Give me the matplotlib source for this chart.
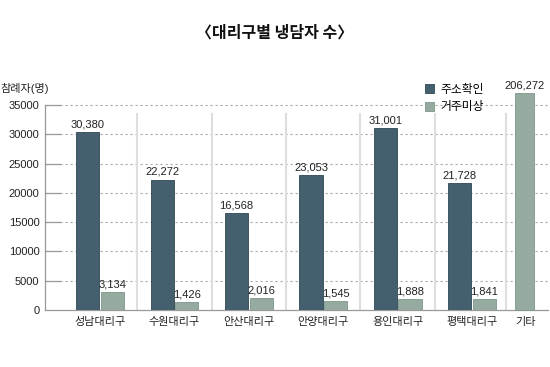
import numpy as np
import matplotlib.pyplot as plt
from matplotlib.patches import Patch

plt.rcParams['font.family'] = ['Liberation Sans', 'Noto Sans CJK KR']

# Data
districts = ['성남대리구', '수원대리구', '안산대리구', '안양대리구', '용인대리구', '평택대리구']
confirmed = [30380, 22272, 16568, 23053, 31001, 21728]   # 주소확인
unknown = [3134, 1426, 2016, 1545, 1888, 1841]           # 거주미상
other_label = '기타'
other_value = 206272
series_names = ['주소확인', '거주미상']
yticks = [0, 5000, 10000, 15000, 20000, 25000, 30000, 35000]

dark = '#44606f'
light = '#95ab9f'
fs = 8

fig = plt.figure(figsize=(5.5, 3.67), dpi=100)
ax = fig.add_axes([45 / 550, 57 / 367, 503 / 550, 205 / 367])

x = np.arange(len(districts))
w = 0.31
off = 0.165
ax.bar(x - off, confirmed, w, color=dark, edgecolor='#2f4654', linewidth=0.6, zorder=3)
ax.bar(x + off, unknown, w, color=light, edgecolor='#7f9689', linewidth=0.6, zorder=3)

# 기타 bar runs past the top of the axis; show it capped
x_other = 5.705
cap = 37050
ax.bar(x_other, min(other_value, cap), 0.26, color=light, edgecolor='#7f9689',
       linewidth=0.6, zorder=3, clip_on=False)

for xi, v in zip(x - off, confirmed):
    ax.text(xi, v + 450, f'{v:,}', ha='center', va='bottom', fontsize=fs, color='#222')
for xi, v in zip(x + off, unknown):
    ax.text(xi, v + 450, f'{v:,}', ha='center', va='bottom', fontsize=fs, color='#222')
ax.text(x_other, min(other_value, cap) + 450, f'{other_value:,}', ha='center', va='bottom',
        fontsize=fs, color='#222', clip_on=False)

# separators between groups
seps = list(x[:-1] + 0.5) + [5.46]
for s in seps:
    ax.plot([s, s], [0, 33500], color='#dedede', linewidth=1.5, zorder=1)

ax.set_xlim(-0.74, 6.02)
ax.set_ylim(0, 35000)
ax.set_yticks(yticks)
ax.set_yticklabels([str(t) for t in yticks], fontsize=fs, color='#222')
for t in yticks[1:]:
    ax.plot([-0.74, 6.02], [t, t], color='#aaaaaa', linewidth=0.8,
            linestyle=(0, (2, 2.5)), zorder=0, clip_on=False)
    ax.plot([-0.74, -0.54], [t, t], color='#999999', linewidth=0.9, zorder=1, clip_on=False)

ax.tick_params(axis='y', length=0, pad=4)
ax.set_xticks(list(x) + [x_other + 0.02])
ax.set_xticklabels(districts + [other_label], fontsize=fs, color='#222')
ax.tick_params(axis='x', length=0, pad=5)

for side in ['top', 'right']:
    ax.spines[side].set_visible(False)
ax.spines['left'].set_color('#999999')
ax.spines['bottom'].set_color('#999999')
ax.spines['left'].set_linewidth(0.9)
ax.spines['bottom'].set_linewidth(0.9)

ax.text(-0.74 - 45 / 74.4, 36900, '참례자(명)', fontsize=fs, ha='left', va='bottom', color='#222')

handles = [Patch(facecolor=dark, edgecolor='#2f4654', linewidth=0.6),
           Patch(facecolor=light, edgecolor='#7f9689', linewidth=0.6)]
fig.legend(handles, series_names, loc='upper left', bbox_to_anchor=(425 / 550, 1 - 84 / 367),
           frameon=False, fontsize=fs + 0.5, handlelength=0.8, handleheight=0.8,
           handletextpad=0.5, labelspacing=0.45, borderaxespad=0, borderpad=0)

fig.text(0.5, 1 - 33 / 367, '〈대리구별 냉담자 수〉', ha='center', va='center',
         fontsize=11.5, fontweight='bold', color='#111', family=['Noto Sans CJK KR'])

fig.savefig('out.png', dpi=100)
